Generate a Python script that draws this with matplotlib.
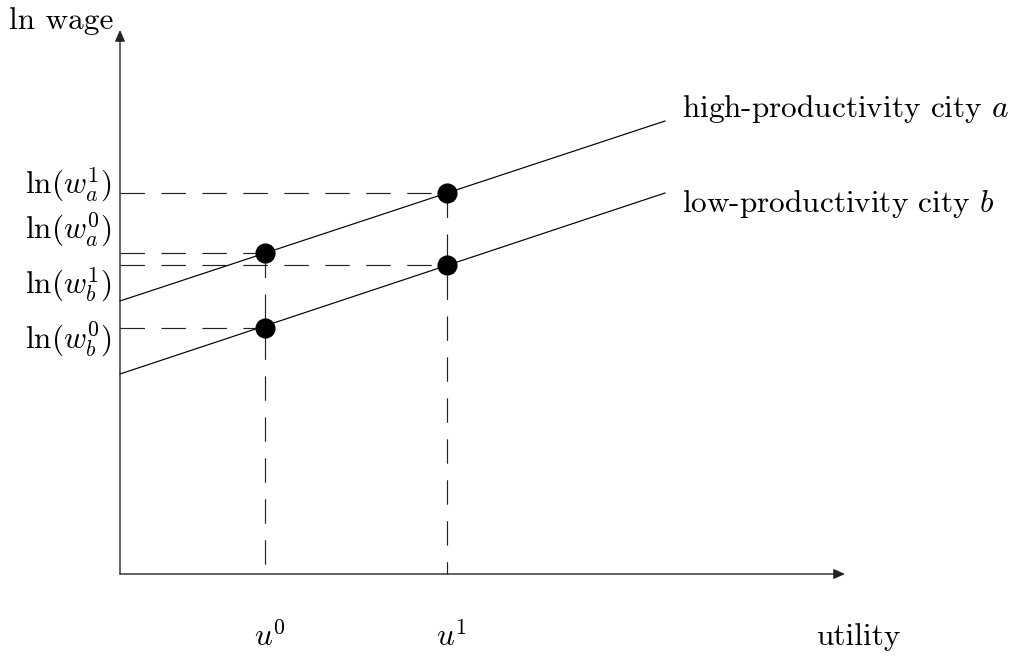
import matplotlib
matplotlib.use("Agg")
import matplotlib.pyplot as plt

plt.rcParams["font.family"] = "serif"
plt.rcParams["font.serif"] = ["cmr10"]
plt.rcParams["mathtext.fontset"] = "cm"
plt.rcParams["axes.formatter.use_mathtext"] = True

# utility levels and the two wage schedules
u_levels = [1.45, 3.265]
u_labels = [r"$u^0$", r"$u^1$"]
line_u = [0.0, 5.45]
line_a = [2.73, 4.53]   # high-productivity city a
line_b = [2.00, 3.81]   # low-productivity city b
wage_a = [3.21, 3.815]  # ln(w_a^0), ln(w_a^1)
wage_b = [2.46, 3.09]   # ln(w_b^0), ln(w_b^1)

# y labels with their baseline heights (set apart so they do not collide)
y_labels = [r"$\ln(w_a^1)$", r"$\ln(w_a^0)$", r"$\ln(w_b^1)$", r"$\ln(w_b^0)$"]
y_label_pos = [3.81, 3.36, 2.81, 2.27]

x_end = 7.25
y_end = 5.44

fig = plt.figure(figsize=(10.15, 6.59), dpi=100)
ax = fig.add_axes([0, 0, 1, 1])
ax.set_xlim(-1.2, 8.95)
ax.set_ylim(-0.85, 5.74)
ax.axis("off")

fs = 22.5
dash = (0, (20.7, 14.0))
lw = 0.85

# axes with arrows
arrow = dict(arrowstyle="-|>,head_length=0.45,head_width=0.2", color="#222222",
             lw=1.0, shrinkA=0, shrinkB=0, mutation_scale=15)
ax.annotate("", xy=(x_end, 0), xytext=(0, 0), arrowprops=arrow)
ax.annotate("", xy=(0, y_end), xytext=(0, 0), arrowprops=arrow)

# wage lines
ax.plot(line_u, line_a, color="black", lw=lw)
ax.plot(line_u, line_b, color="black", lw=lw)

# dashed guides
for u, wa, wb in zip(u_levels, wage_a, wage_b):
    ax.plot([0, u], [wa, wa], color="#222222", lw=lw, linestyle=dash)
    ax.plot([0, u], [wb, wb], color="#222222", lw=lw, linestyle=dash)
    ax.plot([u, u], [wa, 0], color="#222222", lw=lw, linestyle=dash)

# equilibrium points
ax.plot(u_levels, wage_a, "o", color="black", ms=13.5, zorder=5)
ax.plot(u_levels, wage_b, "o", color="black", ms=13.5, zorder=5)

# labels
for lab, y in zip(y_labels, y_label_pos):
    ax.text(-0.08, y, lab, fontsize=fs, ha="right", va="baseline")
ax.text(-0.07, 5.45, "ln wage", fontsize=fs, ha="right", va="baseline")

for lab, u in zip(u_labels, u_levels):
    ax.text(u + 0.05, -0.73, lab, fontsize=fs, ha="center", va="baseline")
ax.text(7.38, -0.71, "utility", fontsize=fs, ha="center", va="baseline")

ax.text(5.62, 4.57, r"high-productivity city $a$", fontsize=fs, ha="left", va="baseline")
ax.text(5.62, 3.62, r"low-productivity city $b$", fontsize=fs, ha="left", va="baseline")

fig.savefig("out.png", dpi=100)
